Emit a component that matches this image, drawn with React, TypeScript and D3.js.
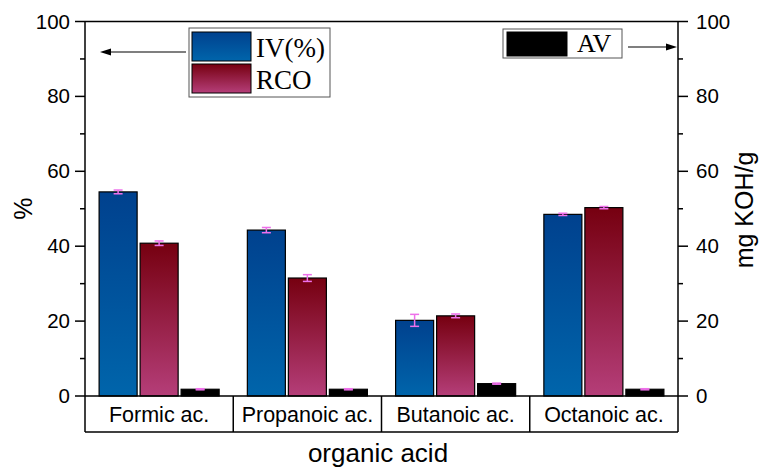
import React from "react";
import * as d3 from "d3";

const categories = ["Formic ac.", "Propanoic ac.", "Butanoic ac.", "Octanoic ac."];
const seriesNames = ["IV(%)", "RCO", "AV"];
const ivValues = [54.5, 44.3, 20.2, 48.5];
const ivErrors = [0.5, 0.7, 1.6, 0.3];
const rcoValues = [40.8, 31.5, 21.4, 50.3];
const rcoErrors = [0.6, 0.9, 0.5, 0.3];
const avValues = [1.8, 1.8, 3.3, 1.8];
const avErrors = [0.15, 0.15, 0.15, 0.15];
const leftTicks = [0, 20, 40, 60, 80, 100];
const rightTicks = [0, 20, 40, 60, 80, 100];

const W = 761;
const H = 467;
const X0 = 85;
const X1 = 678;
const YTOP = 21.5;
const YZERO = 396;
const YBOT = 432;

export default function App() {
  const y = d3.scaleLinear().domain([0, 100]).range([YZERO, YTOP]);
  const yR = d3.scaleLinear().domain([0, 100]).range([YZERO, YTOP]);
  const x = d3.scaleBand<string>().domain(categories).range([X0, X1]).padding(0);
  const xs = d3
    .scaleBand<string>()
    .domain(seriesNames)
    .range([0, x.bandwidth()])
    .paddingInner(0.073)
    .paddingOuter(0.344);

  const minorLeft = d3.range(10, 100, 20);

  const series = [
    { name: "IV(%)", vals: ivValues, errs: ivErrors, fill: "url(#gIV)", scale: y },
    { name: "RCO", vals: rcoValues, errs: rcoErrors, fill: "url(#gRCO)", scale: y },
    { name: "AV", vals: avValues, errs: avErrors, fill: "#000", scale: yR },
  ];

  const errColor = "#ee70ea";
  const sans = "'Liberation Sans', Arial, sans-serif";
  const serif = "'Liberation Serif', 'Times New Roman', serif";

  return (
    <svg width={W} height={H} style={{ position: "absolute", left: 0, top: 0, background: "#fff" }}>
      <defs>
        <linearGradient id="gIV" x1="0" y1="0" x2="0" y2="1">
          <stop offset="0" stopColor="#00418e" />
          <stop offset="1" stopColor="#0065ab" />
        </linearGradient>
        <linearGradient id="gRCO" x1="0" y1="0" x2="0" y2="1">
          <stop offset="0" stopColor="#760010" />
          <stop offset="1" stopColor="#b53e79" />
        </linearGradient>
      </defs>
      <rect x={0} y={0} width={W} height={H} fill="#fff" />

      {/* bars */}
      {series.map((s) =>
        categories.map((c, i) => {
          const bx = (x(c) as number) + (xs(s.name) as number);
          const by = s.scale(s.vals[i]);
          return (
            <rect
              key={s.name + c}
              x={bx}
              y={by}
              width={xs.bandwidth()}
              height={YZERO - by}
              fill={s.fill}
              stroke="#000"
              strokeWidth={1.2}
            />
          );
        })
      )}

      {/* error bars */}
      {series.map((s) =>
        categories.map((c, i) => {
          const cx = (x(c) as number) + (xs(s.name) as number) + xs.bandwidth() / 2;
          const yt = s.scale(s.vals[i] + s.errs[i]);
          const yb = s.scale(s.vals[i] - s.errs[i]);
          return (
            <g key={"e" + s.name + c} stroke={errColor} strokeWidth={1.5}>
              <line x1={cx} x2={cx} y1={yt} y2={yb} />
              <line x1={cx - 4.5} x2={cx + 4.5} y1={yt} y2={yt} />
              <line x1={cx - 4.5} x2={cx + 4.5} y1={yb} y2={yb} />
            </g>
          );
        })
      )}

      {/* frame */}
      <g stroke="#000" strokeWidth={1.5} fill="none">
        <line x1={X0} x2={X1} y1={YTOP} y2={YTOP} />
        <line x1={X0} x2={X1} y1={YZERO} y2={YZERO} />
        <line x1={X0} x2={X1} y1={YBOT} y2={YBOT} />
        <line x1={X0} x2={X0} y1={YTOP} y2={YBOT} />
        <line x1={X1} x2={X1} y1={YTOP} y2={YBOT} />
        {categories.slice(1).map((c) => (
          <line key={"sep" + c} x1={x(c) as number} x2={x(c) as number} y1={YZERO} y2={YBOT} />
        ))}
        {leftTicks.map((t) => (
          <line key={"lt" + t} x1={X0 - 10} x2={X0} y1={y(t)} y2={y(t)} />
        ))}
        {minorLeft.map((t) => (
          <line key={"lm" + t} x1={X0 - 5} x2={X0} y1={y(t)} y2={y(t)} />
        ))}
        {rightTicks.map((t) => (
          <line key={"rt" + t} x1={X1} x2={X1 + 10} y1={yR(t)} y2={yR(t)} />
        ))}
        {minorLeft.map((t) => (
          <line key={"rm" + t} x1={X1} x2={X1 + 5} y1={yR(t)} y2={yR(t)} />
        ))}
      </g>

      {/* tick labels */}
      <g fontFamily={sans} fontSize={20.5} fill="#000">
        {leftTicks.map((t) => (
          <text key={"ll" + t} x={X0 - 15} y={y(t) + 7} textAnchor="end">
            {t}
          </text>
        ))}
        {rightTicks.map((t) => (
          <text key={"rl" + t} x={X1 + 18} y={yR(t) + 7} textAnchor="start">
            {t}
          </text>
        ))}
        {categories.map((c) => (
          <text
            key={"cl" + c}
            x={(x(c) as number) + x.bandwidth() / 2}
            y={421.5}
            textAnchor="middle"
            fontSize={21.5}
          >
            {c}
          </text>
        ))}
      </g>

      {/* axis titles */}
      <g fontFamily={sans} fontSize={25} fill="#000">
        <text x={378} y={462} textAnchor="middle" fontSize={26}>organic acid</text>
        <text transform={`translate(32,${(YTOP + YZERO) / 2}) rotate(-90)`} textAnchor="middle">%</text>
        <text transform={`translate(753,210) rotate(-90)`} textAnchor="middle">mg KOH/g</text>
      </g>

      {/* legend 1 */}
      <rect x={189} y={28} width={141} height={69} fill="#fff" stroke="#555" strokeWidth={1} />
      <rect x={192} y={32} width={59} height={29} fill="url(#gIV)" stroke="#000" strokeWidth={1} />
      <rect x={192} y={64} width={59} height={29} fill="url(#gRCO)" stroke="#000" strokeWidth={1} />
      <text x={256} y={57} fontFamily={serif} fontSize={27} fill="#000">{seriesNames[0]}</text>
      <text x={256} y={89} fontFamily={serif} fontSize={27} fill="#000">{seriesNames[1]}</text>

      {/* legend 2 */}
      <rect x={503} y={29} width={119} height={29} fill="#fff" stroke="#555" strokeWidth={1} />
      <rect x={507} y={32} width={60} height={24} fill="#000" stroke="#000" strokeWidth={1} />
      <text x={577} y={52} fontFamily={serif} fontSize={26} fill="#000">{seriesNames[2]}</text>

      {/* arrows */}
      <g stroke="#000" strokeWidth={1.2}>
        <line x1={186} x2={108} y1={52} y2={52} />
        <line x1={628} x2={668} y1={47} y2={47} />
      </g>
      <path d="M100,52 L111,48.5 L111,55.5 Z" fill="#000" />
      <path d="M677,47 L666,43.5 L666,50.5 Z" fill="#000" />
    </svg>
  );
}
